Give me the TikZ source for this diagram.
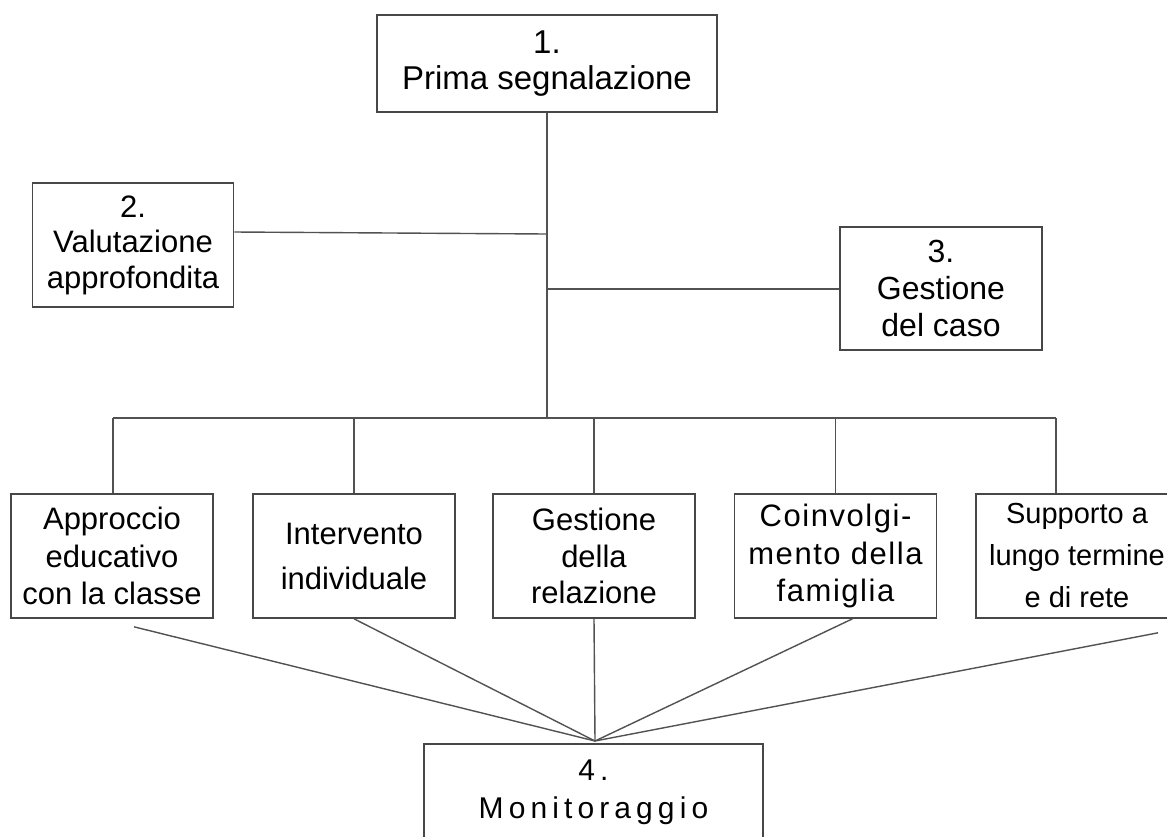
\documentclass[tikz,border=0pt]{standalone}
\usepackage{fontspec}
\setmainfont{Liberation Sans}
\usetikzlibrary{calc}
\begin{document}
\begin{tikzpicture}[x=1pt,y=-1pt,
  box/.style={draw=black!72, line width=1.6pt, rectangle, align=center, inner sep=0pt, text=black, fill=white},
  sub/.style={minimum width=202, minimum height=124},
  link/.style={draw=black!68, line width=1.4pt}]
\useasboundingbox (0,0) rectangle (1167,836);
\clip (0,0) rectangle (1167,836);
\fill[white] (0,0) rectangle (1167,836);

% top-level steps
\node[box, minimum width=340, minimum height=97, font=\fontsize{33}{36}\selectfont] (n1) at (547,63.5) {1.\\Prima segnalazione};
\node[box, minimum width=201, minimum height=124, font=\fontsize{31}{35.5}\selectfont] (n2) at (133,245) {2.\\Valutazione\\approfondita};
\node[box, minimum width=202, minimum height=123, font=\fontsize{32}{37}\selectfont] (n3) at (941,288.5) {3.\\Gestione\\del caso};

% sub-steps
\node[box, sub, font=\fontsize{31}{37.5}\selectfont] (a) at (112,556) {Approccio\\educativo\\con la classe};
\node[box, sub, font=\fontsize{31}{45}\selectfont] (b) at (354,556) {Intervento\\individuale};
\node[box, sub, font=\fontsize{31}{36.5}\selectfont] (c) at (594,556) {Gestione\\della\\relazione};
\node[box, sub, font=\fontsize{31}{37.5}\selectfont\addfontfeature{LetterSpace=5}] (d) at (835.5,556) {Coinvolgi-\\mento della\\famiglia};
\node[box, sub, font=\fontsize{29}{42}\selectfont] (e) at (1077,556) {Supporto a\\lungo termine\\e di rete};

% monitoring
\node[box, minimum width=339, minimum height=96, font=\fontsize{30}{38}\selectfont\addfontfeature{LetterSpace=17}] (n4) at (593.5,792) {4.\\Monitoraggio};

% connector points
\coordinate (bus) at (547,418);
\coordinate (busL) at (113,418);
\coordinate (busR) at (1056,418);
\coordinate (t2) at (547,234);
\coordinate (t3) at (547,289);
\coordinate (m) at (595,741);

% tree connectors
\draw[link] (n1.south) -- (bus);
\draw[link] ($(n2.east)+(0,-13)$) -- (t2);
\draw[link] (t3) -- (t3 -| n3.west);
\draw[link] (busL) -- (busR);
\draw[link] (busL) -- (busL |- a.north);
\draw[link] (b.north |- bus) -- (b.north);
\draw[link] (c.north |- bus) -- (c.north);
\draw[link] (d.north |- bus) -- (d.north);
\draw[link] (busR) -- (busR |- e.north);

% converging connectors
\draw[link] ($(a.south)+(22,8)$) -- (m);
\draw[link] (b.south) -- (m);
\draw[link] (c.south) -- (m);
\draw[link] ($(d.south)+(17,0)$) -- (m);
\draw[link] ($(e.south)+(81,14)$) -- (m);
\end{tikzpicture}
\end{document}
